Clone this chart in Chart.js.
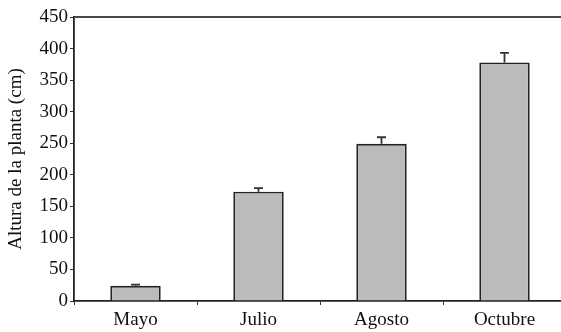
<!DOCTYPE html>
<html>
<head>
<meta charset="utf-8">
<script src="https://cdn.jsdelivr.net/npm/chart.js@4/dist/chart.umd.min.js"></script>
<style>
  html, body { margin: 0; padding: 0; background: #fff; overflow: hidden; }
</style>
</head>
<body>
<canvas id="chart" width="566" height="332"></canvas>
<script>
const months = ['Mayo', 'Julio', 'Agosto', 'Octubre'];
const heights = [24, 173, 249, 378];
const heightErr = [2, 6, 10.5, 15];
const yTitle = 'Altura de la planta (cm)';

const font = { family: '"Liberation Serif", "Times New Roman", serif', size: 19 };
const ink = '#111';

// upward error bars with a small cap
const errorBars = {
  id: 'errorBars',
  afterDatasetsDraw(chart) {
    const { ctx, scales: { y } } = chart;
    const meta = chart.getDatasetMeta(0);
    ctx.save();
    ctx.strokeStyle = '#333';
    ctx.lineWidth = 1.8;
    meta.data.forEach((bar, i) => {
      const top = y.getPixelForValue(heights[i] + heightErr[i]);
      ctx.beginPath();
      ctx.moveTo(bar.x, bar.y);
      ctx.lineTo(bar.x, top);
      ctx.moveTo(bar.x - 4.5, top);
      ctx.lineTo(bar.x + 4.5, top);
      ctx.stroke();
    });
    ctx.restore();
  }
};

// grey frame line along the top of the plot
const topFrame = {
  id: 'topFrame',
  afterDraw(chart) {
    const { ctx, chartArea } = chart;
    ctx.save();
    ctx.strokeStyle = '#4a4a4a';
    ctx.lineWidth = 2;
    ctx.beginPath();
    ctx.moveTo(chartArea.left, chartArea.top);
    ctx.lineTo(chart.width, chartArea.top);
    ctx.stroke();
    ctx.restore();
  }
};

new Chart(document.getElementById('chart'), {
  type: 'bar',
  data: {
    labels: months,
    datasets: [{
      data: heights,
      backgroundColor: '#bbbbbb',
      borderColor: '#222',
      borderWidth: 1.8,
      categoryPercentage: 1,
      barPercentage: 0.41
    }]
  },
  plugins: [errorBars, topFrame],
  options: {
    responsive: false,
    animation: false,
    layout: { padding: { top: 17, right: 0, bottom: 0, left: 0 } },
    plugins: { legend: { display: false }, tooltip: { enabled: false } },
    scales: {
      x: {
        grid: { display: true, drawOnChartArea: false, offset: true, tickLength: 4, color: '#333', lineWidth: 1 },
        border: { color: '#222', width: 1.8 },
        ticks: { font, color: ink, padding: 4, maxRotation: 0 },
        afterFit(scale) { scale.height = 31; }
      },
      y: {
        min: 0,
        max: 450,
        grid: { display: true, drawOnChartArea: false, tickLength: 4, color: '#333', lineWidth: 1 },
        border: { color: '#222', width: 1.8 },
        ticks: { stepSize: 50, font, color: ink, padding: 2 },
        title: { display: true, text: yTitle, font, color: ink, padding: { top: 5, bottom: 0 } },
        afterFit(scale) { scale.width = 74; }
      }
    }
  }
});
</script>
</body>
</html>
